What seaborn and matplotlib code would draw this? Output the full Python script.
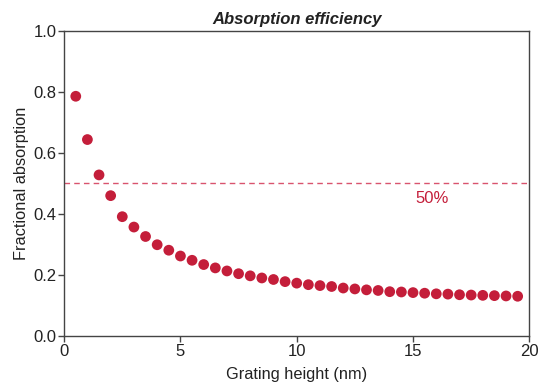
import matplotlib
matplotlib.use("Agg")
import matplotlib.pyplot as plt
import seaborn as sns
import pandas as pd

# Grating height (nm) and the measured fractional absorption
grating_height = [0.5, 1.0, 1.5, 2.0, 2.5, 3.0, 3.5, 4.0, 4.5, 5.0,
                  5.5, 6.0, 6.5, 7.0, 7.5, 8.0, 8.5, 9.0, 9.5, 10.0,
                  10.5, 11.0, 11.5, 12.0, 12.5, 13.0, 13.5, 14.0, 14.5, 15.0,
                  15.5, 16.0, 16.5, 17.0, 17.5, 18.0, 18.5, 19.0, 19.5]
absorption = [0.786, 0.644, 0.528, 0.460, 0.391, 0.357, 0.326, 0.299, 0.281, 0.262,
              0.248, 0.234, 0.223, 0.213, 0.204, 0.197, 0.190, 0.185, 0.178, 0.173,
              0.168, 0.165, 0.162, 0.157, 0.154, 0.151, 0.149, 0.145, 0.144, 0.142,
              0.140, 0.138, 0.137, 0.135, 0.134, 0.133, 0.132, 0.131, 0.130]
threshold = 0.5
threshold_label = "50%"

df = pd.DataFrame({"height": grating_height, "absorption": absorption})

sns.set_style("ticks")
plt.rcParams["font.family"] = ["Liberation Sans", "DejaVu Sans"]

RED = "#C41E3A"
TEXT = "#222222"

fig, ax = plt.subplots(figsize=(5.39, 3.83), dpi=100)
fig.subplots_adjust(left=0.119, right=0.982, top=0.919, bottom=0.123)

sns.scatterplot(data=df, x="height", y="absorption", ax=ax,
                color=RED, s=60, edgecolor="none", zorder=3)

ax.axhline(threshold, color="#D9536E", linestyle=(0, (4, 3)), linewidth=1.0, zorder=2)
ax.text(15.8, threshold - 0.05, threshold_label, color=RED, fontsize=12,
        ha="center", va="center")

ax.set_xlim(0, 20)
ax.set_ylim(0, 1.0)
ax.set_xticks([0, 5, 10, 15, 20])
ax.set_yticks([0.0, 0.2, 0.4, 0.6, 0.8, 1.0])
ax.set_yticklabels(["0.0", "0.2", "0.4", "0.6", "0.8", "1.0"])

ax.set_xlabel("Grating height (nm)", fontsize=11.8, labelpad=6, color=TEXT)
ax.set_ylabel("Fractional absorption", fontsize=11.8, labelpad=3, color=TEXT)
ax.set_title("Absorption efficiency", fontsize=12, fontweight="bold",
             fontstyle="italic", pad=5, color=TEXT)

for side in ["left", "right", "top", "bottom"]:
    ax.spines[side].set_visible(True)
    ax.spines[side].set_color("#444444")
    ax.spines[side].set_linewidth(1.0)
ax.tick_params(axis="both", labelsize=12, length=4, width=1.0,
               color="#444444", labelcolor=TEXT, direction="out", pad=1.5)
ax.tick_params(right=False, top=False)

fig.savefig("out.png", dpi=100)
